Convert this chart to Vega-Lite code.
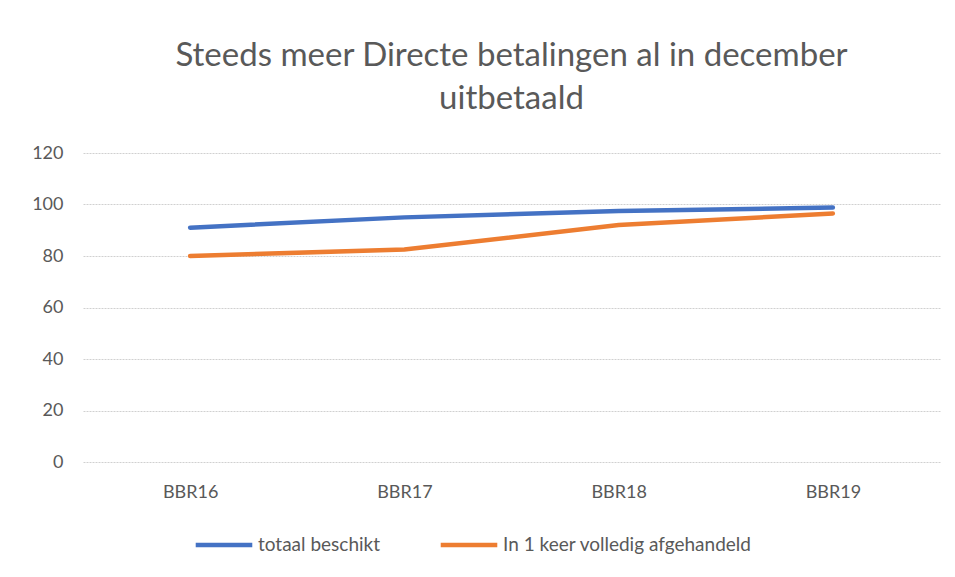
{
  "$schema": "https://vega.github.io/schema/vega-lite/v6.json",
  "width": 857,
  "height": 309,
  "autosize": {"type": "none"},
  "padding": {"left": 83, "top": 153, "right": 15, "bottom": 115},
  "background": "white",
  "title": {
    "text": ["Steeds meer Directe betalingen al in december", "uitbetaald"],
    "font": "Lato",
    "fontSize": 33,
    "fontWeight": "normal",
    "color": "#595959",
    "lineHeight": 43,
    "anchor": "middle",
    "offset": 28
  },
  "data": {
    "values": [
      {"jaar": "BBR16", "reeks": "totaal beschikt", "waarde": 91},
      {"jaar": "BBR17", "reeks": "totaal beschikt", "waarde": 95},
      {"jaar": "BBR18", "reeks": "totaal beschikt", "waarde": 97.5},
      {"jaar": "BBR19", "reeks": "totaal beschikt", "waarde": 98.8},
      {"jaar": "BBR16", "reeks": "In 1 keer volledig afgehandeld", "waarde": 80},
      {"jaar": "BBR17", "reeks": "In 1 keer volledig afgehandeld", "waarde": 82.5},
      {"jaar": "BBR18", "reeks": "In 1 keer volledig afgehandeld", "waarde": 92},
      {"jaar": "BBR19", "reeks": "In 1 keer volledig afgehandeld", "waarde": 96.5}
    ]
  },
  "mark": {"type": "line", "strokeWidth": 4.5, "strokeCap": "round"},
  "encoding": {
    "x": {
      "field": "jaar", "type": "nominal", "title": null,
      "scale": {"paddingInner": 0, "paddingOuter": 0},
      "axis": {"labelAngle": 0, "ticks": false, "domain": false, "labelPadding": 21, "labelFont": "Lato", "labelFontSize": 18, "labelColor": "#595959"}
    },
    "y": {
      "field": "waarde", "type": "quantitative", "title": null,
      "scale": {"domain": [0, 120]},
      "axis": {"values": [0, 20, 40, 60, 80, 100, 120], "ticks": false, "domain": false, "labelPadding": 20, "labelFont": "Lato", "labelFontSize": 18, "labelColor": "#595959", "gridColor": "#d0d0d0", "gridDash": [2, 1]}
    },
    "color": {
      "field": "reeks", "type": "nominal", "title": null,
      "sort": ["totaal beschikt", "In 1 keer volledig afgehandeld"],
      "scale": {"domain": ["totaal beschikt", "In 1 keer volledig afgehandeld"], "range": ["#4472C4", "#ED7D31"]},
      "legend": {"orient": "none", "legendX": 110, "legendY": 361, "direction": "horizontal", "symbolType": "stroke", "symbolStrokeWidth": 4.5, "symbolSize": 3200, "labelOffset": 3, "labelLimit": 0, "labelFont": "Lato", "labelFontSize": 19, "labelColor": "#595959", "columnPadding": 50}
    }
  },
  "config": {"view": {"stroke": null}}
}
